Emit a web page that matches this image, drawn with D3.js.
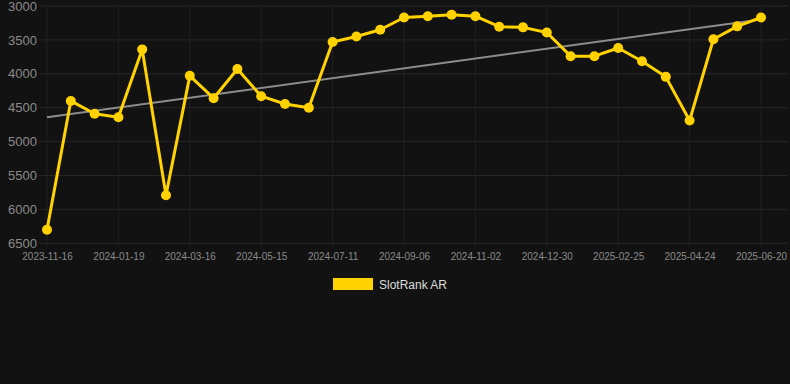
<!DOCTYPE html>
<html><head><meta charset="utf-8">
<script src="https://cdn.jsdelivr.net/npm/d3@7"></script>
<style>
html,body{margin:0;padding:0;background:#121212;}
svg{display:block;font-family:"Liberation Sans",Arial,Helvetica,sans-serif;}
</style></head>
<body>
<svg id="c" width="790" height="384"></svg>
<script>
const dates = ["2023-11-16","2023-12-07","2023-12-28","2024-01-19","2024-02-07","2024-02-26","2024-03-16","2024-04-05","2024-04-25","2024-05-15","2024-06-03","2024-06-22","2024-07-11","2024-07-30","2024-08-18","2024-09-06","2024-09-25","2024-10-14","2024-11-02","2024-11-21","2024-12-10","2024-12-30","2025-01-18","2025-02-06","2025-02-25","2025-03-16","2025-04-04","2025-04-24","2025-05-13","2025-06-01","2025-06-20"];
const rank = [6300,4400,4590,4640,3640,5790,4030,4360,3930,4330,4445,4500,3530,3450,3350,3170,3150,3130,3150,3305,3315,3390,3740,3740,3620,3815,4045,4690,3490,3300,3170];
const yTicks = [3000,3500,4000,4500,5000,5500,6000,6500];
const xTickLabels = ["2023-11-16","2024-01-19","2024-03-16","2024-05-15","2024-07-11","2024-09-06","2024-11-02","2024-12-30","2025-02-25","2025-04-24","2025-06-20"];
const seriesName = "SlotRank AR";

const svg = d3.select("#c");
svg.append("rect").attr("width",790).attr("height",384).attr("fill","#121212");

const x = d3.scalePoint().domain(dates).range([47,761]);
const y = d3.scaleLinear().domain([3000,6500]).range([6,243.3]);

// grid
const g = svg.append("g");
g.selectAll("line.h").data(yTicks).join("line")
  .attr("x1",39).attr("x2",788).attr("y1",d=>y(d)).attr("y2",d=>y(d))
  .attr("stroke","#262626").attr("stroke-width",1);
g.selectAll("line.v").data(xTickLabels).join("line")
  .attr("x1",d=>x(d)).attr("x2",d=>x(d)).attr("y1",y(3000)).attr("y2",y(6500)+4)
  .attr("stroke","#202020").attr("stroke-width",1);

// y axis labels
const yAxis = d3.axisLeft(y).tickValues(yTicks).tickSize(0).tickPadding(0).tickFormat(d3.format("d"));
const ya = svg.append("g").attr("transform","translate(37,0)").call(yAxis);
ya.select(".domain").remove();
ya.selectAll("text").attr("fill","#8a8a8a").style("font-size","13px");

// x axis labels
const xAxis = d3.axisBottom(x).tickValues(xTickLabels).tickSize(0).tickPadding(0);
const xa = svg.append("g").attr("transform","translate(0,253)").call(xAxis);
xa.select(".domain").remove();
xa.selectAll("text").attr("fill","#8a8a8a").style("font-size","10px");

// trend (least squares regression)
const n = rank.length;
const mi = (n-1)/2, mv = d3.mean(rank);
let sxy=0, sxx=0;
rank.forEach((v,i)=>{sxy+=(i-mi)*(v-mv); sxx+=(i-mi)*(i-mi);});
const slope = sxy/sxx;
const trend = [0,n-1].map(i=>({d:dates[i], v: mv + slope*(i-mi)}));
svg.append("path").datum(trend)
  .attr("d", d3.line().x(p=>x(p.d)).y(p=>y(p.v)))
  .attr("fill","none").attr("stroke","#8c8c8c").attr("stroke-width",2);

// series
const data = dates.map((d,i)=>({d, v: rank[i]}));
const col = "#FFD200";
svg.append("path").datum(data)
  .attr("d", d3.line().x(p=>x(p.d)).y(p=>y(p.v)))
  .attr("fill","none").attr("stroke",col).attr("stroke-width",3).attr("stroke-linejoin","round");
svg.selectAll("circle.pt").data(data).join("circle")
  .attr("cx",p=>x(p.d)).attr("cy",p=>y(p.v)).attr("r",5).attr("fill",col);

// legend
svg.append("rect").attr("x",333).attr("y",278).attr("width",40).attr("height",12).attr("fill",col);
svg.append("text").attr("x",379).attr("y",289).text(seriesName)
  .attr("fill","#dddddd").style("font-size","12px");
</script>
</body></html>
